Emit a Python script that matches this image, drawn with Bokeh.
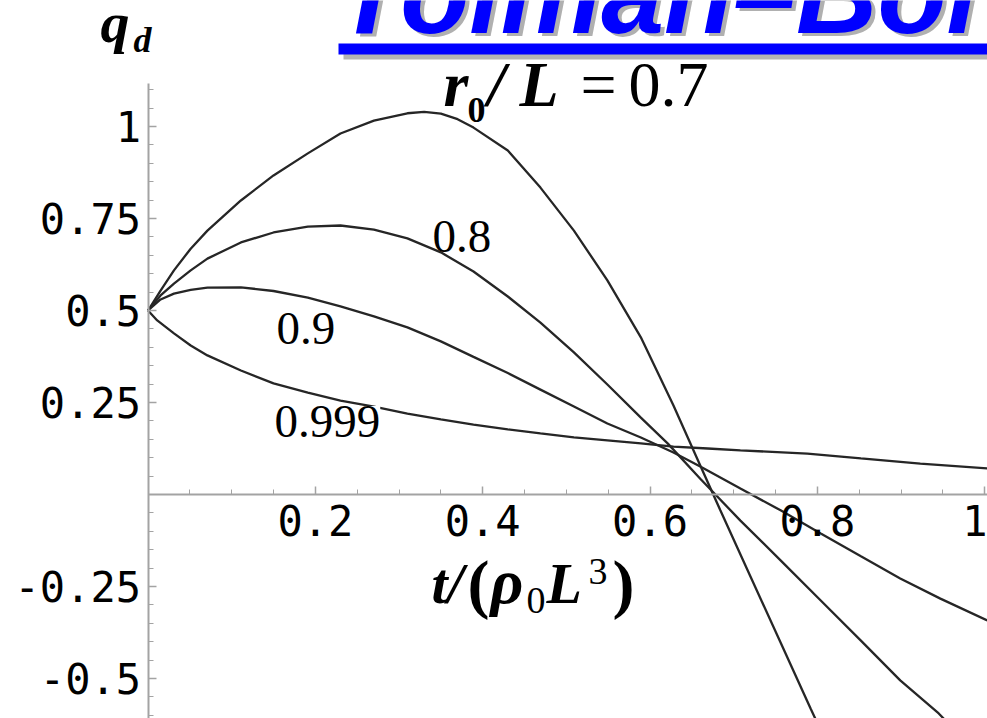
from bokeh.plotting import figure
from bokeh.models import Range1d, FixedTicker, Label, BoxAnnotation
from bokeh.embed import file_html
from bokeh.resources import INLINE

# q_d against t/(rho0 L^3) for four values of r0/L
t_07 = [0.000, 0.015, 0.031, 0.051, 0.071, 0.111, 0.150, 0.191, 0.230, 0.270, 0.310, 0.330, 0.350,
        0.370, 0.389, 0.430, 0.469, 0.509, 0.549, 0.589, 0.628, 0.660, 0.684, 0.720, 0.756, 0.792, 0.804]
q_07 = [0.500, 0.554, 0.609, 0.668, 0.717, 0.799, 0.867, 0.927, 0.981, 1.016, 1.036, 1.040, 1.035,
        1.020, 0.997, 0.935, 0.834, 0.717, 0.582, 0.427, 0.242, 0.079, -0.043, -0.223, -0.402, -0.582, -0.641]

t_08 = [0.000, 0.015, 0.031, 0.051, 0.071, 0.111, 0.150, 0.191, 0.230, 0.270, 0.310, 0.350, 0.389,
        0.430, 0.469, 0.509, 0.549, 0.589, 0.621, 0.660, 0.708, 0.756, 0.804, 0.852, 0.899, 0.945, 0.959]
q_08 = [0.500, 0.541, 0.573, 0.609, 0.641, 0.685, 0.712, 0.728, 0.731, 0.720, 0.696, 0.658, 0.606,
        0.538, 0.467, 0.386, 0.299, 0.209, 0.139, 0.043, -0.071, -0.179, -0.288, -0.397, -0.505, -0.595, -0.628]

t_09 = [0.000, 0.015, 0.031, 0.051, 0.071, 0.111, 0.150, 0.191, 0.230, 0.270, 0.310, 0.350, 0.389, 0.430,
        0.469, 0.509, 0.549, 0.589, 0.628, 0.660, 0.708, 0.756, 0.804, 0.852, 0.899, 0.947, 1.003]
q_09 = [0.500, 0.530, 0.546, 0.556, 0.562, 0.563, 0.553, 0.535, 0.511, 0.484, 0.454, 0.416, 0.374, 0.330,
        0.285, 0.239, 0.193, 0.155, 0.114, 0.076, 0.016, -0.043, -0.106, -0.168, -0.228, -0.283, -0.342]

t_0999 = [0.000, 0.011, 0.031, 0.051, 0.071, 0.111, 0.150, 0.191, 0.230, 0.270, 0.310, 0.350, 0.389,
          0.430, 0.469, 0.509, 0.549, 0.589, 0.628, 0.669, 0.708, 0.788, 0.852, 0.923, 1.003]
q_0999 = [0.500, 0.473, 0.438, 0.405, 0.378, 0.337, 0.302, 0.277, 0.255, 0.239, 0.220, 0.204, 0.190,
          0.177, 0.166, 0.155, 0.147, 0.139, 0.130, 0.125, 0.120, 0.111, 0.098, 0.084, 0.071]

x_ticks = [0.2, 0.4, 0.6, 0.8, 1.0]
x_tick_labels = ["0.2", "0.4", "0.6", "0.8", "1"]
y_ticks = [-0.5, -0.25, 0.25, 0.5, 0.75, 1.0]
y_tick_labels = ["-0.5", "-0.25", "0.25", "0.5", "0.75", "1"]
x_minor = [round(0.05 * i, 2) for i in range(1, 21) if i % 4]
y_minor = [round(0.05 * i, 2) for i in range(-12, 23) if i % 5]

W, H = 987, 718
X0, X1 = -0.1763, 1.0033
Y0, Y1 = -0.6087, 1.3424


def sx(px):
    """Canvas pixel column -> data x (for placing annotations)."""
    return X0 + px / W * (X1 - X0)


def sy(py):
    """Canvas pixel row (from top) -> data y (for placing annotations)."""
    return Y1 - py / H * (Y1 - Y0)


p = figure(width=W, height=H, x_range=Range1d(X0, X1), y_range=Range1d(Y0, Y1),
           output_backend="svg", toolbar_location=None, min_border=0)
p.outline_line_color = None
p.grid.visible = False
p.background_fill_color = "white"
p.border_fill_color = "white"

AX = "#a3a3a3"
for ax, ticks, labels, minor, bounds in (
    (p.xaxis[0], x_ticks, x_tick_labels, x_minor, (0, X1)),
    (p.yaxis[0], y_ticks, y_tick_labels, y_minor, (Y0, 1.117)),
):
    ax.fixed_location = 0
    ax.bounds = bounds
    ax.ticker = FixedTicker(ticks=ticks, minor_ticks=minor)
    ax.major_label_overrides = {t: s for t, s in zip(ticks, labels)}
    ax.axis_line_color = AX
    ax.axis_line_width = 2
    ax.major_tick_line_color = AX
    ax.major_tick_line_width = 1.5
    ax.minor_tick_line_color = AX
    ax.major_tick_in = 8
    ax.major_tick_out = 0
    ax.minor_tick_in = 5
    ax.minor_tick_out = 0
    ax.major_label_text_font = "DejaVu Sans Mono"
    ax.major_label_text_font_size = "42px"
    ax.major_label_text_color = "black"
p.xaxis[0].major_label_standoff = 11
p.yaxis[0].major_label_standoff = 7

CURVE = "#262626"
for t, q in ((t_07, q_07), (t_08, q_08), (t_09, q_09), (t_0999, q_0999)):
    p.line(t, q, line_color=CURVE, line_width=2.3)


def label(text, px, py, size, style="normal", font="Liberation Serif", color="black", **kw):
    """Place a text so that its baseline sits at canvas row py, starting at column px."""
    p.add_layout(Label(x=sx(px), y=sy(py - 0.34 * size), text=text, text_font=font,
                       text_font_size=f"{size}px", text_font_style=style, text_color=color,
                       text_baseline="alphabetic", **kw))


# title with drop shadow and underline bar
label("Tolman\u2013Bondi", 339, 35, 113, "bold italic", "Liberation Sans", "#b0b0b0")
label("Tolman\u2013Bondi", 335, 32, 113, "bold italic", "Liberation Sans", "#0000ff")
p.add_layout(BoxAnnotation(left=sx(343), right=sx(1000), top=sy(48), bottom=sy(59),
                           fill_color="#b4b4b4", fill_alpha=1, line_color=None))
p.add_layout(BoxAnnotation(left=sx(338), right=sx(1000), top=sy(43), bottom=sy(54),
                           fill_color="#0000ff", fill_alpha=1, line_color=None))

# y axis title q_d
label("q", 100, 42, 58, "bold italic")
label("d", 133, 52, 36, "bold italic")

# x axis title t/(rho0 L^3)
label("t/", 431, 603, 58, "bold italic")
label("(", 467, 605, 66, "bold")
label("\u03c1", 490, 603, 64, "bold italic")
label("0", 526, 613, 38)
label("L", 546, 603, 58, "bold italic")
label("3", 588, 584, 38)
label(")", 612, 605, 66, "bold")

# r0/L values next to the curves
label("r", 443, 106, 64, "bold italic")
label("0", 467, 122, 36, "bold")
label("/", 487, 106, 64, "bold italic")
label("L", 519, 106, 64, "bold italic")
label("=", 580, 106, 64)
label("0.7", 628, 106, 64)
label("0.8", 432, 252, 47)
label("0.9", 276, 344, 47)
label("0.999", 274, 437, 47, background_fill_color="white", background_fill_alpha=1.0)

open("out.html", "w").write(file_html(p, INLINE))
